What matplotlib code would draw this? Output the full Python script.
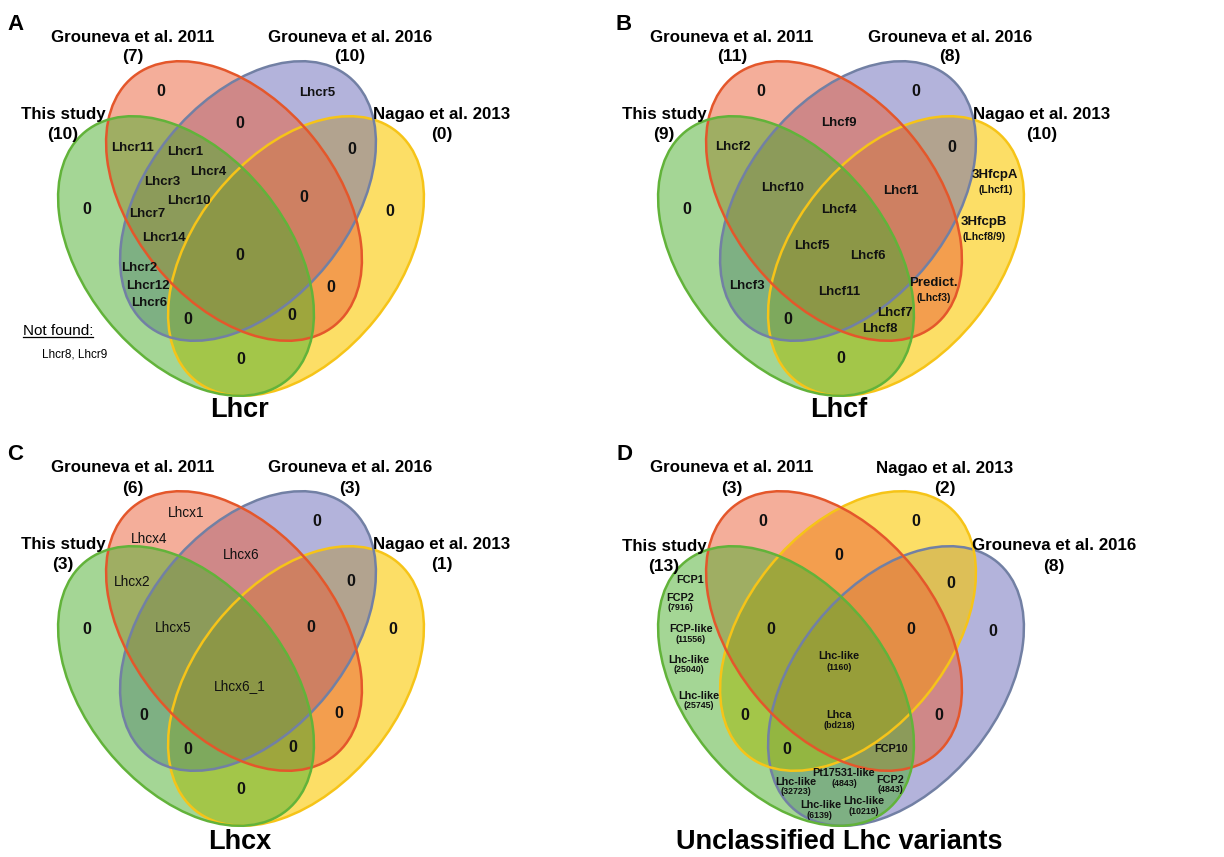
import matplotlib
matplotlib.use('Agg')
import matplotlib.pyplot as plt
from matplotlib.patches import Ellipse

plt.rcParams['font.family'] = ['Liberation Sans', 'DejaVu Sans']

# ---------------- data ----------------
panel_letters = ['A', 'B', 'C', 'D']
panel_titles = ['Lhcr', 'Lhcf', 'Lhcx', 'Unclassified Lhc variants']

# sets listed in slot order: outer-left, inner-left, inner-right, outer-right
A_sets = ['This study', 'Grouneva et al. 2011', 'Grouneva et al. 2016', 'Nagao et al. 2013']
A_counts = [10, 7, 10, 0]
B_sets = ['This study', 'Grouneva et al. 2011', 'Grouneva et al. 2016', 'Nagao et al. 2013']
B_counts = [9, 11, 8, 10]
C_sets = ['This study', 'Grouneva et al. 2011', 'Grouneva et al. 2016', 'Nagao et al. 2013']
C_counts = [3, 6, 3, 1]
D_sets = ['This study', 'Grouneva et al. 2011', 'Nagao et al. 2013', 'Grouneva et al. 2016']
D_counts = [13, 3, 2, 8]

A_labels = ['0', 'Lhcr5', '0', '0', '0', '0', 'Lhcr11', 'Lhcr1', 'Lhcr4', 'Lhcr3',
            'Lhcr10', 'Lhcr7', 'Lhcr14', '0', '0', 'Lhcr2', 'Lhcr12', 'Lhcr6',
            '0', '0', '0', '0']
A_not_found = 'Lhcr8, Lhcr9'
B_labels = ['0', '0', '0', '3HfcpA', '(Lhcf1)', '3HfcpB', '(Lhcf8/9)', 'Lhcf9', '0',
            'Lhcf2', 'Lhcf10', 'Lhcf1', 'Lhcf4', 'Lhcf5', 'Lhcf6', 'Lhcf11', 'Lhcf3',
            'Predict.', '(Lhcf3)', '0', 'Lhcf7', 'Lhcf8', '0']
C_labels = ['Lhcx1', 'Lhcx4', '0', 'Lhcx6', 'Lhcx2', '0', '0', 'Lhcx5', '0', '0',
            'Lhcx6_1', '0', '0', '0', '0', '0']
D_labels = ['0', '0', '0', '0', 'FCP1', 'FCP2', '(7916)', 'FCP-like', '(11556)',
            'Lhc-like', '(25040)', 'Lhc-like', '(25745)', '0', '0', '0',
            'Lhc-like', '(1160)', 'Lhca', '(bd218)', '0', '0', '0', 'FCP10',
            'Pt17531-like', '(4843)', 'Lhc-like', '(32723)', 'FCP2', '(4843)',
            'Lhc-like', '(6139)', 'Lhc-like', '(10219)']

# ---------------- layout (panel-local pixel units) ----------------
A_pos = [(161, 91), (317, 93), (87, 210), (390, 212), (240, 124), (352, 149), (133, 148),
         (185, 152), (208, 172), (162, 182), (189, 201), (147, 214), (164, 238),
         (304, 198), (240, 255), (139, 268), (148, 286), (149, 303), (331, 288),
         (188, 319), (292, 315), (241, 360)]
B_pos = [(149, 91), (304, 91), (75, 210), (383, 175), (384, 190), (372, 222), (372, 237),
         (227, 123), (340, 148), (121, 147), (171, 188), (289, 191), (227, 210),
         (200, 246), (256, 256), (227, 292), (135, 286), (321, 283), (322, 298),
         (176, 319), (283, 313), (268, 329), (229, 359)]
C_pos = [(186, 83), (149, 109), (317, 91), (241, 125), (132, 152), (351, 152), (87, 200),
         (173, 198), (311, 198), (393, 200), (240, 256), (144, 285), (339, 284),
         (188, 319), (293, 318), (241, 360)]
D_pos = [(151, 92), (304, 92), (227, 126), (339, 153), (78, 150), (68, 168), (68, 178),
         (79, 199), (79, 210), (77, 230), (77, 240), (87, 266), (87, 276), (159, 199),
         (299, 199), (381, 202), (227, 226), (227, 237), (227, 285), (227, 296),
         (133, 286), (327, 286), (175, 320), (279, 319), (232, 343), (232, 354),
         (184, 352), (184, 362), (278, 350), (278, 360), (209, 375), (207, 386),
         (252, 371), (252, 382)]

GREEN = dict(fill='#4baf2d', edge='#62b33a', alpha=0.5)
RED = dict(fill='#eb5f37', edge='#e4572b', alpha=0.5)
BLUE = dict(fill='#6969b9', edge='#7280a4', alpha=0.5)
YELLOW = dict(fill='#fac800', edge='#f6c418', alpha=0.6)

# ellipse slots relative to venn centre: (dx, dy, angle)
SLOTS = [(-55, 27, 51), (-7, -28, 51), (7, -28, -51), (55, 27, -51)]
ELL_W, ELL_H = 320, 203

panels = [
    dict(letter=panel_letters[0], title=panel_titles[0], sets=A_sets, counts=A_counts,
         colors=[GREEN, RED, BLUE, YELLOW], labels=A_labels, pos=A_pos, cx=241,
         gsize=9.5, gweight='bold', ssize=7.5,
         setpos=[(63, 115), (133, 37), (350, 37), (442, 115)],
         titlepos=(240, 410), letterpos=(15, 25)),
    dict(letter=panel_letters[1], title=panel_titles[1], sets=B_sets, counts=B_counts,
         colors=[GREEN, RED, BLUE, YELLOW], labels=B_labels, pos=B_pos, cx=229,
         gsize=9.5, gweight='bold', ssize=7.5,
         setpos=[(52, 115), (120, 37), (338, 37), (430, 115)],
         titlepos=(227, 410), letterpos=(12, 25)),
    dict(letter=panel_letters[2], title=panel_titles[2], sets=C_sets, counts=C_counts,
         colors=[GREEN, RED, BLUE, YELLOW], labels=C_labels, pos=C_pos, cx=241,
         gsize=9.8, gweight='normal', ssize=7.5,
         setpos=[(63, 115), (133, 38), (350, 38), (442, 115)],
         titlepos=(240, 412), letterpos=(15, 25)),
    dict(letter=panel_letters[3], title=panel_titles[3], sets=D_sets, counts=D_counts,
         colors=[GREEN, RED, YELLOW, BLUE], labels=D_labels, pos=D_pos, cx=229,
         gsize=7.8, gweight='bold', ssize=6.4,
         setpos=[(52, 116), (120, 38), (333, 39), (442, 116)],
         titlepos=(227, 412), letterpos=(12, 25)),
]

fig = plt.figure(figsize=(12.24, 8.57), dpi=100)
axes_rects = [[0, 0.5, 0.5, 0.5], [0.5, 0.5, 0.5, 0.5], [0, 0, 0.5, 0.5], [0.5, 0, 0.5, 0.5]]
ylims = [(428.5, 0), (428.5, 0), (427, -1.5), (427, -1.5)]
CY = 229

axes = []
for p, rect, yl in zip(panels, axes_rects, ylims):
    ax = fig.add_axes(rect)
    ax.set_xlim(0, 612)
    ax.set_ylim(*yl)
    ax.axis('off')
    axes.append(ax)
    cx = p['cx']
    # fills: draw outer-right first, then inner-right, inner-left, outer-left
    for i in [3, 2, 1, 0]:
        dx, dy, ang = SLOTS[i]
        c = p['colors'][i]
        ax.add_patch(Ellipse((cx + dx, CY + dy), ELL_W, ELL_H, angle=ang,
                             facecolor=c['fill'], alpha=c['alpha'], edgecolor='none',
                             zorder=1 + (3 - i)))
    for i in [3, 2, 1, 0]:
        dx, dy, ang = SLOTS[i]
        c = p['colors'][i]
        ax.add_patch(Ellipse((cx + dx, CY + dy), ELL_W, ELL_H, angle=ang,
                             facecolor='none', edgecolor=c['edge'], lw=1.8, zorder=6))
    # set labels
    for name, cnt, (x, y) in zip(p['sets'], p['counts'], p['setpos']):
        ax.text(x, y, name, ha='center', va='center', fontsize=12.2,
                fontweight='bold', zorder=10)
        ax.text(x, y + 20, f'({cnt})', ha='center', va='center', fontsize=12.5,
                fontweight='bold', zorder=10)
    # region labels
    for lab, (x, y) in zip(p['labels'], p['pos']):
        if lab == '0':
            fs, fw = 11.5, 'bold'
        elif lab.startswith('('):
            fs, fw = p['ssize'], 'bold'
        else:
            fs, fw = p['gsize'], p['gweight']
        ax.text(x, y, lab, ha='center', va='center', fontsize=fs, fontweight=fw,
                zorder=10, color='#111111')
    ax.text(*p['titlepos'], p['title'], ha='center', va='center', fontsize=19.5,
            fontweight='bold', zorder=10)
    ax.text(*p['letterpos'], p['letter'], ha='center', va='center', fontsize=16,
            fontweight='bold', zorder=10)

# "Not found" note in panel A
axA = axes[0]
nf = axA.text(58, 331, 'Not found:', ha='center', va='center', fontsize=11, zorder=10)
axA.text(75, 355, A_not_found, ha='center', va='center', fontsize=8.5, zorder=10)
fig.canvas.draw()
bb = nf.get_window_extent(renderer=fig.canvas.get_renderer())
inv = axA.transData.inverted()
(x0, y0), (x1, y1) = inv.transform([(bb.x0, bb.y0), (bb.x1, bb.y0)])
axA.plot([x0, x1], [y0 - 1, y1 - 1], color='black', lw=0.9, zorder=10)

fig.savefig('out.png', dpi=100)
